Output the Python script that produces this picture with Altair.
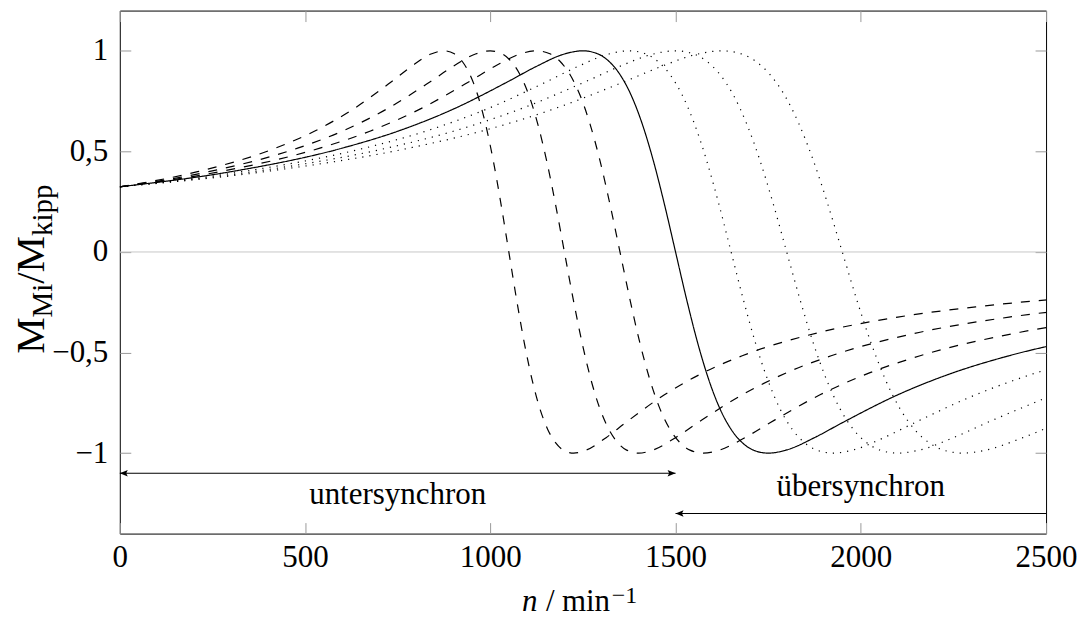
import altair as alt
import pandas as pd

# ---- data ---------------------------------------------------------------
# torque ratio M_Mi / M_kipp at the sampled points of each curve (same
# shape for every curve, points sampled from left to right)
torque_ratio = [0.324, 0.399, 0.516, 0.600, 0.710, 0.849, 0.923, 0.984, 1.000,
                0.985, 0.948, 0.882, 0.780, 0.637, 0.454, 0.237, 0.0,
                -0.237, -0.454, -0.637, -0.780, -0.882, -0.948, -0.985,
                -1.000, -0.984, -0.923, -0.849, -0.710, -0.600, -0.516,
                -0.399, -0.324, -0.273, -0.235]

# speed n (min^-1) at the sampled points, one list per curve
n_1050 = [0, 210, 420, 525, 630, 735, 787.5, 840, 875, 903, 924, 945, 966, 987,
          1008, 1029, 1050, 1071, 1092, 1113, 1134, 1155, 1176, 1197, 1225,
          1260, 1312.5, 1365, 1470, 1575, 1680, 1890, 2100, 2310, 2520]
n_1200 = [0, 240, 480, 600, 720, 840, 900, 960, 1000, 1032, 1056, 1080, 1104,
          1128, 1152, 1176, 1200, 1224, 1248, 1272, 1296, 1320, 1344, 1368,
          1400, 1440, 1500, 1560, 1680, 1800, 1920, 2160, 2400, 2640]
n_1350 = [0, 270, 540, 675, 810, 945, 1012.5, 1080, 1125, 1161, 1188, 1215,
          1242, 1269, 1296, 1323, 1350, 1377, 1404, 1431, 1458, 1485, 1512,
          1539, 1575, 1620, 1687.5, 1755, 1890, 2025, 2160, 2430, 2700]
n_1500 = [0, 300, 600, 750, 900, 1050, 1125, 1200, 1250, 1290, 1320, 1350,
          1380, 1410, 1440, 1470, 1500, 1530, 1560, 1590, 1620, 1650, 1680,
          1710, 1750, 1800, 1875, 1950, 2100, 2250, 2400, 2700]
n_1650 = [0, 330, 660, 825, 990, 1155, 1237.5, 1320, 1375, 1419, 1452, 1485,
          1518, 1551, 1584, 1617, 1650, 1683, 1716, 1749, 1782, 1815, 1848,
          1881, 1925, 1980, 2062.5, 2145, 2310, 2475, 2640]
n_1800 = [0, 360, 720, 900, 1080, 1260, 1350, 1440, 1500, 1548, 1584, 1620,
          1656, 1692, 1728, 1764, 1800, 1836, 1872, 1908, 1944, 1980, 2016,
          2052, 2100, 2160, 2250, 2340, 2520]
n_1950 = [0, 390, 780, 975, 1170, 1365, 1462.5, 1560, 1625, 1677, 1716, 1755,
          1794, 1833, 1872, 1911, 1950, 1989, 2028, 2067, 2106, 2145, 2184,
          2223, 2275, 2340, 2437.5, 2535]

curve_names = ["1050", "1200", "1350", "1500", "1650", "1800", "1950"]
curve_styles = ["dashed", "dashed", "dashed", "solid", "dotted", "dotted", "dotted"]
curve_speeds = [n_1050, n_1200, n_1350, n_1500, n_1650, n_1800, n_1950]

x_ticks = [0, 500, 1000, 1500, 2000, 2500]
y_ticks = [-1, -0.5, 0, 0.5, 1]

arrow_x1 = [0, 1500]
arrow_x2 = [1500, 2500]
arrow_y = [-1.1, -1.3]

label_texts = ["untersynchron", "übersynchron"]
label_x = [750, 2000]
label_y = [-1.1, -1.3]

# ---- build table -----------------------------------------------------------
rows = []
for name, style, speeds in zip(curve_names, curve_styles, curve_speeds):
    for n, m in zip(speeds, torque_ratio):
        rows.append({"curve": name, "style": style, "n": n, "m": m})
df = pd.DataFrame(rows)

FONT = "Liberation Serif"
FS = 31
xscale = alt.Scale(domain=[0, 2500], nice=False, zero=False)
yscale = alt.Scale(domain=[-1.4, 1.2], nice=False, zero=False)

common = dict(domain=False, grid=False, ticks=True, tickSize=11, offset=-11,
              tickColor="#9a9a9a", tickWidth=1, labelFont=FONT,
              labelFontSize=FS, labelColor="black", title=None,
              labelFlush=False, labelOverlap=False)
x_bottom = alt.Axis(orient="bottom", values=x_ticks, format="d",
                    labelPadding=9, **common)
y_left = alt.Axis(orient="left", values=y_ticks, format="~g",
                  labelExpr="replace(datum.label, '.', ',')",
                  labelPadding=12, **common)
x_top = alt.Axis(orient="top", values=x_ticks, labels=False, **common)
y_right = alt.Axis(orient="right", values=y_ticks, labels=False, **common)

zero = alt.Chart(pd.DataFrame({"m": [0]})).mark_rule(
    color="#c8c8c8", strokeWidth=1).encode(
    y=alt.Y("m:Q", scale=yscale, axis=y_left))


def curves(style, dash, xaxis=None, yaxis=None):
    return alt.Chart(df[df["style"] == style]).mark_line(
        clip=True, color="black", strokeWidth=1.2, strokeDash=dash,
        interpolate="monotone").encode(
        x=alt.X("n:Q", scale=xscale, axis=xaxis),
        y=alt.Y("m:Q", scale=yscale, axis=yaxis),
        detail="curve:N")


dashed = curves("dashed", [9, 9], xaxis=x_bottom)
solid = curves("solid", [1, 0], xaxis=x_top, yaxis=y_right)
dotted = curves("dotted", [1.2, 6])

arrows_df = pd.DataFrame({"x1": arrow_x1, "x2": arrow_x2, "y": arrow_y})
arrow_lines = alt.Chart(arrows_df).mark_rule(color="black", strokeWidth=1.2).encode(
    x=alt.X("x1:Q", scale=xscale, axis=None), x2="x2:Q",
    y=alt.Y("y:Q", scale=yscale, axis=None))

LEFT_HEAD = "M0,0L1,-0.4L0.8,0L1,0.4Z"
RIGHT_HEAD = "M0,0L-1,-0.4L-0.8,0L-1,0.4Z"
heads_left = alt.Chart(pd.DataFrame({"x": [arrow_x1[0], arrow_x1[1]],
                                     "y": arrow_y})).mark_point(
    shape=LEFT_HEAD, size=256, filled=True, color="black", opacity=1,
    strokeWidth=0).encode(
    x=alt.X("x:Q", scale=xscale, axis=None), y=alt.Y("y:Q", scale=yscale, axis=None))
heads_right = alt.Chart(pd.DataFrame({"x": [arrow_x2[0]], "y": [arrow_y[0]]})).mark_point(
    shape=RIGHT_HEAD, size=256, filled=True, color="black", opacity=1,
    strokeWidth=0).encode(
    x=alt.X("x:Q", scale=xscale, axis=None), y=alt.Y("y:Q", scale=yscale, axis=None))


def label(i, dy):
    d = pd.DataFrame({"t": [label_texts[i]], "x": [label_x[i]], "y": [label_y[i]]})
    return alt.Chart(d).mark_text(font=FONT, fontSize=FS, color="black",
                                  baseline="alphabetic", align="center", dy=dy).encode(
        x=alt.X("x:Q", scale=xscale, axis=None),
        y=alt.Y("y:Q", scale=yscale, axis=None), text="t:N")


lab_unter = label(0, 31)
lab_ueber = label(1, -17.5)

dummy = pd.DataFrame({"a": [0]})


def ptext(txt, x, y, size=FS, angle=0, style="normal", align="left"):
    return alt.Chart(dummy).mark_text(
        text=txt, font=FONT, fontSize=size, color="black", angle=angle,
        fontStyle=style, align=align, baseline="alphabetic").encode(
        x=alt.value(x), y=alt.value(y))


# y-axis title  M_Mi / M_kipp  (rotated, reads upward)
YB = -75.5
YMAIN = 41
YSUB = 29
ytitle = [
    ptext("M", YB, 343.9, size=YMAIN, angle=270),
    ptext("Mi", YB + 8, 307.5, size=YSUB, angle=270),
    ptext("/M", YB, 273.7, size=YMAIN, angle=270),
    ptext("kipp", YB + 8, 225.9, size=YSUB, angle=270),
]
# x-axis title  n / min^-1
XB = 602
xtitle = [
    ptext("n", 403, XB, style="italic"),
    ptext("/", 427, XB),
    ptext("min", 443, XB),
    ptext("\u22121", 493, XB - 8, size=24),
]

chart = alt.layer(
    zero, dashed, dotted, solid, arrow_lines, heads_left, heads_right,
    lab_unter, lab_ueber, *ytitle, *xtitle
).resolve_axis(x="independent", y="independent").properties(
    width=928, height=524,
    autosize=alt.AutoSizeParams(type="none"),
    padding={"left": 112, "top": 2, "right": 32, "bottom": 88},
).configure_view(stroke="black", strokeWidth=1)

chart.save("out.html", embed_options={"renderer": "svg", "actions": False})
